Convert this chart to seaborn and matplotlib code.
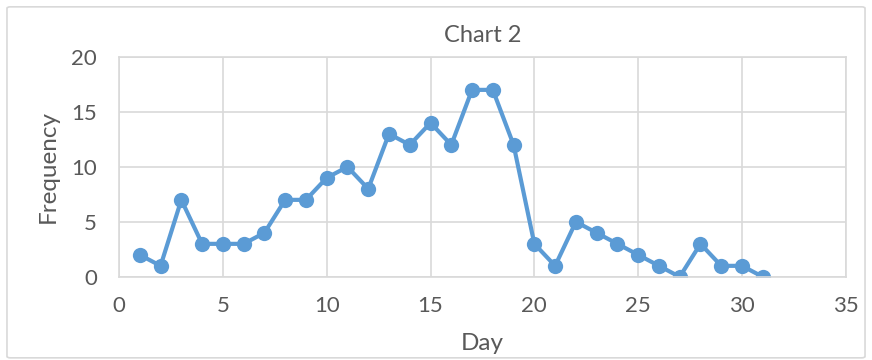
import matplotlib
matplotlib.use("Agg")
import matplotlib.pyplot as plt
import seaborn as sns
import pandas as pd
from matplotlib.patches import FancyBboxPatch

# -----------------------------
# Data
# -----------------------------
days = list(range(1, 32))
frequency = [2, 1, 7, 3, 3, 3, 4, 7, 7, 9, 10, 8, 13, 12, 14, 12,
             17, 17, 12, 3, 1, 5, 4, 3, 2, 1, 0, 3, 1, 1, 0]
x_ticks = [0, 5, 10, 15, 20, 25, 30, 35]
y_ticks = [0, 5, 10, 15, 20]

LINE_COLOR = "#5B9BD5"
TEXT_COLOR = "#595959"
GRID_COLOR = "#D9D9D9"

# -----------------------------
# Plot
# -----------------------------
sns.set_style("white")
plt.rcParams["font.family"] = ["Lato", "DejaVu Sans"]

df = pd.DataFrame({"Day": days, "Frequency": frequency})

fig = plt.figure(figsize=(8.72, 3.6), dpi=100)
ax = fig.add_axes([0.1365, 0.231, 0.8335, 0.611])

# outer chart border
fig.patches.append(FancyBboxPatch((0.008, 0.006), 0.984, 0.975,
                                  boxstyle="round,pad=0,rounding_size=0.004",
                                  transform=fig.transFigure, fill=False,
                                  edgecolor=GRID_COLOR, linewidth=1.2))

sns.lineplot(data=df, x="Day", y="Frequency", ax=ax, color=LINE_COLOR,
             linewidth=3, marker="o", markersize=11,
             markeredgewidth=0, markerfacecolor=LINE_COLOR)

ax.set_xlim(0, 35)
ax.set_ylim(0, 20)
ax.set_xticks(x_ticks)
ax.set_yticks(y_ticks)
ax.grid(True, color=GRID_COLOR, linewidth=1.2)
ax.set_axisbelow(True)
for s in ax.spines.values():
    s.set_color(GRID_COLOR)
    s.set_linewidth(1.2)

ax.tick_params(axis="both", length=0, labelsize=16, colors=TEXT_COLOR)
ax.tick_params(axis="x", pad=14)
ax.tick_params(axis="y", pad=16)

ax.set_xlabel("Day", fontsize=17.5, color=TEXT_COLOR, va="baseline")
ax.xaxis.set_label_coords(0.5, -0.332)
ax.set_ylabel("Frequency", fontsize=17.5, color=TEXT_COLOR, va="center")
ax.yaxis.set_label_coords(-0.098, 0.5)
ax.set_title("Chart 2", fontsize=17, color=TEXT_COLOR, pad=11)

fig.savefig("out.png", dpi=100)
